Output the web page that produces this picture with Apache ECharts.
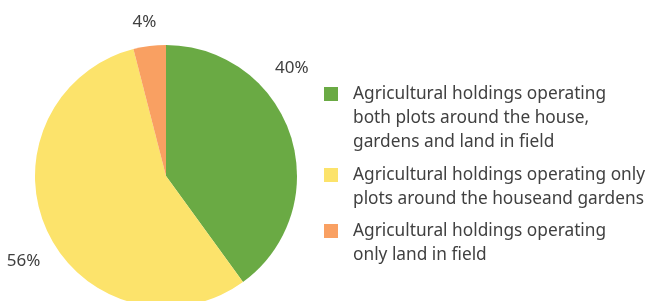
<!DOCTYPE html>
<html>
<head>
<meta charset="utf-8">
<script src="https://cdn.jsdelivr.net/npm/echarts@6/dist/echarts.min.js"></script>
<style>
html,body{margin:0;padding:0;background:#fff;}
#main{width:649px;height:301px;}
</style>
</head>
<body>
<div id="main"></div>
<script>
// 数据
var names = [
    'Agricultural holdings operating\nboth plots around the house,\ngardens and land in field',
    'Agricultural holdings operating only\nplots around the houseand gardens',
    'Agricultural holdings operating\nonly land in field'
];
var values = [40, 56, 4];
var colors = ['#6aaa44', '#fce36b', '#f9a062'];
var legendTops = [87, 168, 224]; // 图例方块的上沿
var labelShift = [[-30, -64], [7, 25], [13, -14]]; // 百分比标签微调

var fontFam = '"Noto Sans", "Open Sans", sans-serif';
var lineH = 24;

var myChart = echarts.init(document.getElementById('main'));

//每个图例单独放，前面补空行让第一行文字对齐方块
var legends = [];
for (var i = 0; i < names.length; i++) {
    var n = names[i].split('\n').length;
    legends.push({
        data: [names[i]],
        orient: 'vertical',
        left: 324,
        top: legendTops[i] + 7 - (2 * n - 1) * lineH / 2,
        padding: 0,
        itemWidth: 14,
        itemHeight: 14,
        itemGap: 0,
        icon: 'rect',
        selectedMode: false,
        formatter: (function (k) {
            return function (name) { return new Array(k).join('\n') + name; };
        })(n),
        textStyle: {
            fontFamily: fontFam,
            fontSize: 17.3,
            color: '#404040',
            lineHeight: lineH,
            padding: [0, 0, 0, 10]
        }
    });
}

var seriesData = [];
for (var j = 0; j < names.length; j++) {
    seriesData.push({name: names[j], value: values[j], itemStyle: {color: colors[j]}});
}

var option = {
    animation: false,
    legend: legends,
    series: [{
        type: 'pie',
        center: [166, 176],
        radius: 131,
        startAngle: 90,
        clockwise: true,
        data: seriesData,
        label: {
            show: true,
            position: 'outside',
            formatter: '{c}%',
            fontFamily: fontFam,
            fontSize: 17,
            color: '#404040',
            overflow: 'none'
        },
        labelLine: {show: false, length: 10, length2: 0},
        labelLayout: function (params) {
            var s = labelShift[params.dataIndex];
            return {dx: s[0], dy: s[1]};
        },
        itemStyle: {borderWidth: 0}
    }]
};
myChart.setOption(option);
</script>
</body>
</html>
